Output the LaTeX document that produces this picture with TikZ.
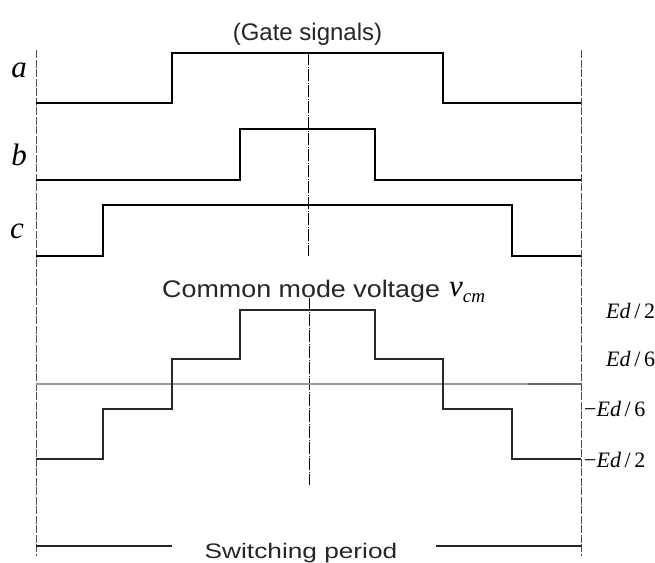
\documentclass[tikz,border=0pt]{standalone}
\usepackage{fontspec}
\setmainfont{Liberation Serif}
\setsansfont{Liberation Sans}
\definecolor{stair}{RGB}{40,40,40}
\begin{document}
\begin{tikzpicture}[x=1pt,y=-1pt,
  sig/.style={line width=2.1pt, black, line join=miter},
  stairline/.style={line width=2.5pt, stair, line join=miter},
  guide/.style={line width=0.8pt, black!70, dash pattern=on 8pt off 1.5pt},
  centerline/.style={line width=0.8pt, black, dash pattern=on 12pt off 1.5pt on 1pt off 1.5pt},
  sanstext/.style={font=\sffamily\fontsize{24}{28}\selectfont, text=black!85, inner sep=0pt},
  lab/.style={font=\fontsize{31}{34}\selectfont\itshape, inner sep=0pt},
  lvl/.style={font=\fontsize{22}{26}\selectfont, inner sep=0pt, anchor=base west},
  periodline/.style={line width=1.8pt, black!85}
]
\useasboundingbox (0,0) rectangle (655,562);
\fill[white] (0,0) rectangle (655,562);

% guide lines
\draw[guide] (36,50) -- (36,556);
\draw[guide] (581,50) -- (581,556);
\draw[centerline] (308,53) -- (308,256);
\draw[centerline] (309,298) -- (309,485);

% zero level line
\draw[line width=1.5pt, black!40] (36,384) -- (581,384);
\draw[line width=2.5pt, black!60] (528,384) -- (581,384);

% gate signals
\draw[sig] (36,103) -- (172,103) -- (172,53) -- (443,53) -- (443,103) -- (581,103);
\draw[sig] (36,180) -- (240,180) -- (240,129) -- (375,129) -- (375,180) -- (581,180);
\draw[sig] (36,256) -- (103,256) -- (103,205) -- (512,205) -- (512,256) -- (581,256);

% common mode voltage staircase
\draw[stairline] (36,459) -- (103,459) -- (103,409) -- (172,409) -- (172,359)
  -- (240,359) -- (240,310) -- (375,310) -- (375,359) -- (443,359) -- (443,409)
  -- (512,409) -- (512,459) -- (581,459);

% labels
\node[sanstext, anchor=base] (gate) at (307.5,40) {(Gate signals)};
\node[lab] (la) at (19,70) {a};
\node[lab] (lb) at (19,155) {b};
\node[lab] (lc) at (17,231) {c};
\node[sanstext, anchor=base west] (cmv) at (162,297) {\scalebox{1.12}[1]{Common mode voltage}};
\node[font=\fontsize{31}{33}\selectfont\itshape, inner sep=0pt, anchor=base west] (vcm) at (449,296)
  {v\raisebox{-6pt}{\fontsize{19}{21}\selectfont cm}};

\node[lvl] (l1) at (606,318) {{\itshape Ed}\,/\,2};
\node[lvl] (l2) at (606,366) {{\itshape Ed}\,/\,6};
\node[lvl] (l3) at (584,416) {−{\itshape Ed}\,/\,6};
\node[lvl] (l4) at (584,467) {−{\itshape Ed}\,/\,2};

% switching period
\node[sanstext, anchor=base] (sp) at (301,558) {\scalebox{1.25}[1]{\fontsize{21}{24}\selectfont Switching period}};
\coordinate (pl) at (36,546);
\coordinate (pr) at (581,546);
\draw[periodline] (pl) -- (172,546);
\draw[periodline] (436,546) -- (pr);
\end{tikzpicture}
\end{document}
